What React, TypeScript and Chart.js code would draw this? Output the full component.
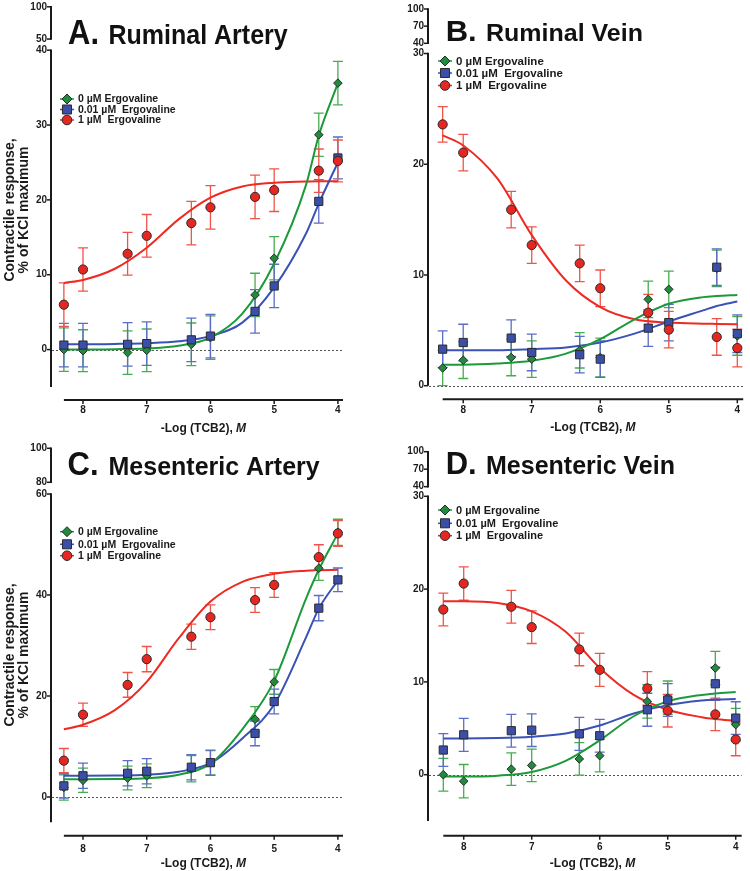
import React, { useEffect, useRef } from 'react';
import { Chart, registerables } from 'chart.js';

Chart.register(...registerables);

const FONT = '"Liberation Sans", Arial, Helvetica, sans-serif';
const INK = '#1a1a1a';

// ---------- shared categories / labels ----------
const doses = [8.3, 8, 7.3, 7, 6.3, 6, 5.3, 5, 4.3, 4];
const curveDoses = [8.3, 8, 7.5, 7, 6.5, 6, 5.5, 5, 4.5, 4.3, 4];
const xTickValues = [8, 7, 6, 5, 4];
const legendLabels = ['0 µM Ergovaline', '0.01 µM  Ergovaline', '1 µM  Ergovaline'];
const yAxisTitle = ['Contractile response,', '% of KCl maximum'];
const xAxisTitle = '-Log (TCB2), ';
const xAxisTitleUnit = 'M';

// ---------- Panel A: Ruminal Artery ----------
const mainTicksA = [0, 10, 20, 30, 40];
const topTicksA = [50, 100];
const greenA = [0.0, -0.15, -0.4, -0.1, 0.7, 1.6, 7.3, 12.2, 28.7, 35.6];
const greenErrA = [2.9, 2.8, 2.9, 2.85, 2.85, 2.9, 2.9, 2.9, 2.9, 2.9];
const blueA = [0.6, 0.6, 0.7, 0.8, 1.3, 1.8, 5.1, 8.5, 19.8, 25.6];
const blueErrA = [2.9, 2.9, 2.9, 2.9, 2.9, 2.9, 2.9, 2.9, 2.9, 2.8];
const redA = [6.0, 10.7, 12.8, 15.2, 16.9, 19.0, 20.4, 21.3, 23.9, 25.2];
const redErrA = [2.9, 2.9, 2.85, 2.85, 2.9, 2.9, 2.9, 2.85, 2.9, 2.8];
const greenCurveA = [0.0, 0.0, 0.05, 0.15, 0.5, 1.6, 4.8, 11.5, 22.0, 28.6, 35.6];
const blueCurveA = [0.7, 0.7, 0.75, 0.85, 1.1, 1.8, 3.6, 8.3, 15.5, 19.5, 25.0];
const redCurveA = [8.9, 9.3, 10.8, 13.6, 17.4, 20.3, 21.8, 22.3, 22.45, 22.5, 22.5];

// ---------- Panel B: Ruminal Vein ----------
const mainTicksB = [0, 10, 20, 30];
const topTicksB = [40, 70, 100];
const greenB = [1.6, 2.3, 2.55, 2.4, 3.2, 2.55, 7.8, 8.7, 10.6, 4.5];
const greenErrB = [1.6, 1.65, 1.65, 1.65, 1.6, 1.75, 1.65, 1.65, 1.65, 1.75];
const blueB = [3.3, 3.9, 4.3, 3.0, 2.8, 2.4, 5.2, 5.7, 10.7, 4.7];
const blueErrB = [1.65, 1.65, 1.65, 1.65, 1.65, 1.65, 1.65, 1.65, 1.65, 1.7];
const redB = [23.6, 21.05, 15.9, 12.7, 11.05, 8.8, 6.6, 5.06, 4.4, 3.4];
const redErrB = [1.6, 1.65, 1.65, 1.65, 1.65, 1.65, 1.65, 1.65, 1.65, 1.7];
const greenCurveB = [1.9, 1.9, 2.0, 2.25, 2.9, 4.2, 6.0, 7.4, 8.0, 8.1, 8.2];
const blueCurveB = [3.2, 3.2, 3.2, 3.3, 3.45, 3.9, 4.7, 5.8, 6.8, 7.2, 7.6];
const redCurveB = [22.6, 21.7, 18.7, 13.6, 9.5, 7.1, 6.0, 5.7, 5.6, 5.58, 5.55];

// ---------- Panel C: Mesenteric Artery ----------
const mainTicksC = [0, 20, 40, 60];
const topTicksC = [80, 100];
const greenC = [1.9, 3.3, 3.75, 4.2, 5.6, 6.8, 15.4, 22.8, 45.3, 52.4];
const greenErrC = [2.5, 2.4, 2.35, 2.35, 2.6, 2.4, 2.5, 2.45, 2.4, 2.6];
const blueC = [2.2, 4.2, 4.7, 5.1, 5.9, 6.8, 12.6, 18.9, 37.4, 43.0];
const blueErrC = [2.4, 2.5, 2.5, 2.5, 2.5, 2.5, 2.45, 2.45, 2.5, 2.35];
const redC = [7.2, 16.3, 22.2, 27.3, 31.75, 35.6, 39.0, 42.0, 47.5, 52.2];
const redErrC = [2.4, 2.3, 2.45, 2.5, 2.5, 2.45, 2.45, 2.45, 2.45, 2.55];
const greenCurveC = [3.5, 3.5, 3.55, 3.7, 4.4, 6.6, 13.4, 23.0, 39.3, 45.0, 52.2];
const blueCurveC = [4.2, 4.2, 4.25, 4.4, 5.0, 6.7, 11.6, 18.3, 31.6, 37.3, 42.9];
const redCurveC = [13.4, 14.3, 17.2, 22.8, 31.4, 38.7, 42.6, 44.2, 44.8, 44.9, 45.0];

// ---------- Panel D: Mesenteric Vein ----------
const mainTicksD = [0, 10, 20, 30];
const topTicksD = [40, 70, 100];
const greenD = [0.0, -0.7, 0.6, 1.0, 1.7, 2.05, 7.9, 8.3, 11.5, 5.4];
const greenErrD = [1.76, 1.8, 1.75, 1.75, 1.75, 1.75, 1.8, 1.8, 1.8, 1.75];
const blueD = [2.66, 4.3, 4.74, 4.8, 4.4, 4.2, 7.0, 8.05, 9.8, 6.1];
const blueErrD = [1.76, 1.78, 1.76, 1.76, 1.78, 1.76, 1.78, 1.76, 1.78, 1.76];
const redD = [17.8, 20.6, 18.1, 15.9, 13.5, 11.3, 9.3, 6.9, 6.5, 3.8];
const redErrD = [1.76, 1.8, 1.76, 1.76, 1.76, 1.78, 1.8, 1.76, 1.76, 1.76];
const greenCurveD = [-0.2, -0.2, -0.1, 0.3, 1.5, 3.7, 6.3, 7.9, 8.6, 8.75, 8.9];
const blueCurveD = [3.9, 3.9, 3.95, 4.1, 4.45, 5.3, 6.6, 7.5, 8.0, 8.1, 8.15];
const redCurveD = [18.7, 18.7, 18.5, 17.6, 15.4, 11.5, 8.6, 7.0, 6.2, 6.0, 5.8];

// ---------- styles ----------
const SERIES_STYLE = [
  { fill: '#1f8b3d', line: '#1c9a3a', err: '#46ad4f', style: 'rectRot', radius: 4.3, legR: 5 },
  { fill: '#3b4fa8', line: '#3a52b6', err: '#5b6dc6', style: 'rect', radius: 5.8, legR: 6.4 },
  { fill: '#e62620', line: '#ee2a22', err: '#f05448', style: 'circle', radius: 4.6, legR: 4.8 },
];

const panels = [
  {
    id: 'A', letter: 'A.', name: 'Ruminal Artery', left: 0, top: 0, width: 375, height: 435,
    letterX: 68, nameX: 108.5, titleBase: 44, titleSy: 1.12,
    legendX: 60, legendRows: [99, 109.5, 120], legendFont: 10.5,
    yTitle: { x1: 10, x2: 24, yc: 210 },
    mainTicks: mainTicksA, topTicks: topTicksA,
    yMin: -5, yMax: 40.73, topMin: 41.2, topMax: 100, wTop: 38, wMain: 343,
    xMin: 3.92, xMax: 8.502, padTop: 6, padRight: 32, yWidth: 51, xHeight: 48, tickLen: 17, xAxisGap: 13, xTitleY: 429,
    means: [greenA, blueA, redA], errs: [greenErrA, blueErrA, redErrA], curves: [greenCurveA, blueCurveA, redCurveA],
  },
  {
    id: 'B', letter: 'B.', name: 'Ruminal Vein', left: 375, top: 0, width: 375, height: 435,
    letterX: 70.7, nameX: 111, titleBase: 41, titleSy: 0.95,
    legendX: 63, legendRows: [61, 73, 85.5], legendFont: 11.5,
    yTitle: null,
    mainTicks: mainTicksB, topTicks: topTicksB,
    yMin: 0, yMax: 30.5, topMin: 31.8, topMax: 100, wTop: 39, wMain: 337.7,
    xMin: 3.914, xMax: 8.514, padTop: 9, padRight: 2.3, yWidth: 53, xHeight: 49.3, tickLen: 18.3, xAxisGap: 13.6, xTitleY: 428,
    means: [greenB, blueB, redB], errs: [greenErrB, blueErrB, redErrB], curves: [greenCurveB, blueCurveB, redCurveB],
  },
  {
    id: 'C', letter: 'C.', name: 'Mesenteric Artery', left: 0, top: 435, width: 375, height: 436,
    letterX: 67.5, nameX: 108.5, titleBase: 40, titleSy: 1.06,
    legendX: 60, legendRows: [96.7, 109.3, 120.7], legendFont: 10.5,
    yTitle: { x1: 10, x2: 24, yc: 220 },
    mainTicks: mainTicksC, topTicks: topTicksC,
    yMin: -5, yMax: 61.19, topMin: 76.65, topMax: 100, wTop: 39.7, wMain: 334.25,
    xMin: 3.92, xMax: 8.502, padTop: 13.3, padRight: 32, yWidth: 51, xHeight: 48.75, tickLen: 20.75, xAxisGap: 13.45, xTitleY: 428.3,
    means: [greenC, blueC, redC], errs: [greenErrC, blueErrC, redErrC], curves: [greenCurveC, blueCurveC, redCurveC],
  },
  {
    id: 'D', letter: 'D.', name: 'Mesenteric Vein', left: 375, top: 435, width: 375, height: 436,
    letterX: 70.7, nameX: 111, titleBase: 39, titleSy: 1.0,
    legendX: 63, legendRows: [75, 88.3, 100.7], legendFont: 11,
    yTitle: null,
    mainTicks: mainTicksD, topTicks: topTicksD,
    yMin: -5, yMax: 30.52, topMin: 31.7, topMax: 100, wTop: 39.8, wMain: 329.6,
    xMin: 3.912, xMax: 8.525, padTop: 16.7, padRight: 8.3, yWidth: 53, xHeight: 49.9, tickLen: 20.2, xAxisGap: 14.6, xTitleY: 428.3,
    means: [greenD, blueD, redD], errs: [greenErrD, blueErrD, redErrD], curves: [greenCurveD, blueCurveD, redCurveD],
  },
];

function drawMarker(ctx: CanvasRenderingContext2D, style: string, x: number, y: number, r: number, fill: string) {
  ctx.beginPath();
  if (style === 'circle') {
    ctx.arc(x, y, r, 0, Math.PI * 2);
  } else if (style === 'rect') {
    const h = r * Math.SQRT1_2;
    ctx.rect(x - h, y - h, 2 * h, 2 * h);
  } else {
    ctx.moveTo(x - r, y);
    ctx.lineTo(x, y - r);
    ctx.lineTo(x + r, y);
    ctx.lineTo(x, y + r);
    ctx.closePath();
  }
  ctx.fillStyle = fill;
  ctx.fill();
  ctx.strokeStyle = '#2b2b2b';
  ctx.lineWidth = 1;
  ctx.stroke();
}

function makeDecor(p: any) {
  return {
    id: 'decor' + p.id,
    beforeDatasetsDraw(chart: any) {
      const ctx = chart.ctx;
      const xs = chart.scales.x;
      const ys = chart.scales.y;
      const area = chart.chartArea;
      ctx.save();
      const y0 = Math.round(ys.getPixelForValue(0)) + 0.5;
      ctx.strokeStyle = '#555';
      ctx.lineWidth = 1;
      ctx.setLineDash([2, 2]);
      ctx.beginPath();
      ctx.moveTo(area.left + 1, y0);
      ctx.lineTo(area.right, y0);
      ctx.stroke();
      ctx.setLineDash([]);
      for (let s = 0; s < 3; s++) {
        const st = SERIES_STYLE[s];
        ctx.strokeStyle = st.err;
        ctx.lineWidth = 1.3;
        doses.forEach((d, i) => {
          const x = xs.getPixelForValue(d);
          const m = p.means[s][i];
          const e = p.errs[s][i];
          const yh = ys.getPixelForValue(m + e);
          const yl = ys.getPixelForValue(m - e);
          ctx.beginPath();
          ctx.moveTo(x, yh);
          ctx.lineTo(x, yl);
          ctx.moveTo(x - 5, yh);
          ctx.lineTo(x + 5, yh);
          ctx.moveTo(x - 5, yl);
          ctx.lineTo(x + 5, yl);
          ctx.stroke();
        });
      }
      ctx.restore();
    },
    afterDraw(chart: any) {
      const ctx = chart.ctx;
      const xs = chart.scales.x;
      const ys = chart.scales.y;
      const yt = chart.scales.yTop;
      const area = chart.chartArea;
      ctx.save();
      ctx.strokeStyle = INK;
      ctx.lineCap = 'butt';
      const ax = area.left;
      // main y axis
      const mt = p.mainTicks;
      const yTopMain = ys.getPixelForValue(mt[mt.length - 1]);
      const yBotMain = ys.getPixelForValue(p.yMin);
      ctx.lineWidth = 2;
      ctx.beginPath();
      ctx.moveTo(ax, yTopMain - 0.75);
      ctx.lineTo(ax, yBotMain);
      ctx.stroke();
      ctx.lineWidth = 1.5;
      mt.forEach((t: number) => {
        const y = ys.getPixelForValue(t);
        ctx.beginPath();
        ctx.moveTo(ax - 4, y);
        ctx.lineTo(ax, y);
        ctx.stroke();
      });
      // top segment
      const tt = p.topTicks;
      const ya = yt.getPixelForValue(tt[tt.length - 1]);
      const yb = yt.getPixelForValue(tt[0]);
      ctx.lineWidth = 2;
      ctx.beginPath();
      ctx.moveTo(ax, ya - 0.75);
      ctx.lineTo(ax, yb + 0.75);
      ctx.stroke();
      ctx.lineWidth = 1.5;
      tt.forEach((t: number) => {
        const y = yt.getPixelForValue(t);
        ctx.beginPath();
        ctx.moveTo(ax - 4, y);
        ctx.lineTo(ax, y);
        ctx.stroke();
      });
      // x axis
      const yx = area.bottom + p.xAxisGap;
      const xStart = xs.getPixelForValue(8.3);
      ctx.lineWidth = 2;
      ctx.beginPath();
      ctx.moveTo(xStart, yx);
      ctx.lineTo(area.right, yx);
      ctx.stroke();
      ctx.lineWidth = 1.5;
      xTickValues.forEach((t) => {
        const x = xs.getPixelForValue(t);
        ctx.beginPath();
        ctx.moveTo(x, yx);
        ctx.lineTo(x, yx + 4);
        ctx.stroke();
      });
      // x axis title
      ctx.fillStyle = INK;
      ctx.textBaseline = 'middle';
      ctx.textAlign = 'left';
      ctx.font = `bold 12px ${FONT}`;
      const w1 = ctx.measureText(xAxisTitle).width;
      ctx.font = `italic bold 12px ${FONT}`;
      const w2 = ctx.measureText(xAxisTitleUnit).width;
      const cx = (xStart + area.right) / 2;
      const sx = cx - (w1 + w2) / 2;
      ctx.font = `bold 12px ${FONT}`;
      ctx.fillText(xAxisTitle, sx, p.xTitleY);
      ctx.font = `italic bold 12px ${FONT}`;
      ctx.fillText(xAxisTitleUnit, sx + w1, p.xTitleY);
      // y axis title
      if (p.yTitle) {
        ctx.font = `bold 14px ${FONT}`;
        ctx.textAlign = 'center';
        ctx.textBaseline = 'middle';
        [p.yTitle.x1, p.yTitle.x2].forEach((xx: number, k: number) => {
          ctx.save();
          ctx.translate(xx, p.yTitle.yc);
          ctx.rotate(-Math.PI / 2);
          ctx.fillText(yAxisTitle[k], 0, 0);
          ctx.restore();
        });
      }
      // panel title
      ctx.save();
      ctx.translate(0, p.titleBase);
      ctx.scale(1, p.titleSy);
      ctx.textAlign = 'left';
      ctx.textBaseline = 'alphabetic';
      ctx.fillStyle = '#111';
      ctx.font = `bold 31px ${FONT}`;
      ctx.fillText(p.letter, p.letterX, 0);
      ctx.font = `bold 25px ${FONT}`;
      ctx.fillText(p.name, p.nameX, 0);
      ctx.restore();
      // legend
      for (let s = 0; s < 3; s++) {
        const st = SERIES_STYLE[s];
        const y = p.legendRows[s];
        const lx = p.legendX;
        ctx.strokeStyle = st.line;
        ctx.lineWidth = 1.5;
        ctx.beginPath();
        ctx.moveTo(lx, y);
        ctx.lineTo(lx + 14, y);
        ctx.stroke();
        drawMarker(ctx, st.style, lx + 7, y, st.legR, st.fill);
        ctx.fillStyle = INK;
        ctx.font = `bold ${p.legendFont}px ${FONT}`;
        ctx.textAlign = 'left';
        ctx.textBaseline = 'middle';
        ctx.fillText(legendLabels[s], lx + 18, y + 0.5);
      }
      ctx.restore();
    },
  };
}

function buildConfig(p: any): any {
  const datasets: any[] = [];
  for (let s = 2; s >= 0; s--) {
    const st = SERIES_STYLE[s];
    datasets.push({
      type: 'scatter',
      label: legendLabels[s],
      data: doses.map((x, i) => ({ x, y: p.means[s][i] })),
      pointStyle: st.style,
      pointRadius: st.radius,
      pointHoverRadius: st.radius,
      pointBackgroundColor: st.fill,
      pointBorderColor: '#2b2b2b',
      pointBorderWidth: 1,
      showLine: false,
      order: 2 - s,
      clip: false,
    });
  }
  for (let s = 0; s < 3; s++) {
    const st = SERIES_STYLE[s];
    datasets.push({
      type: 'line',
      label: legendLabels[s] + ' fit',
      data: curveDoses.map((x, i) => ({ x, y: p.curves[s][i] })),
      borderColor: st.line,
      borderWidth: 2,
      pointRadius: 0,
      fill: false,
      cubicInterpolationMode: 'monotone',
      order: 10 + s,
    });
  }
  const tickFont = { family: FONT, size: 10, weight: 'bold', lineHeight: 1.2 };
  return {
    type: 'scatter',
    data: { datasets },
    plugins: [makeDecor(p)],
    options: {
      animation: false,
      responsive: false,
      devicePixelRatio: 1,
      events: [],
      layout: { padding: { left: 0, top: p.padTop, right: p.padRight, bottom: 0 } },
      plugins: { legend: { display: false }, tooltip: { enabled: false }, title: { display: false } },
      scales: {
        x: {
          type: 'linear',
          position: 'bottom',
          reverse: true,
          min: p.xMin,
          max: p.xMax,
          border: { display: false },
          grid: { display: true, drawOnChartArea: false, drawTicks: true, tickLength: p.tickLen, color: 'rgba(0,0,0,0)' },
          ticks: { font: tickFont, color: INK, padding: 0, maxRotation: 0, autoSkip: false, callback: (v: any) => String(v) },
          afterBuildTicks: (sc: any) => { sc.ticks = xTickValues.map((v) => ({ value: v })); },
          afterFit: (sc: any) => { sc.height = p.xHeight; },
        },
        y: {
          type: 'linear',
          position: 'left',
          stack: 'v',
          stackWeight: p.wMain,
          weight: 0,
          min: p.yMin,
          max: p.yMax,
          border: { display: false },
          grid: { display: true, drawOnChartArea: false, drawTicks: true, tickLength: 4, color: 'rgba(0,0,0,0)' },
          ticks: { font: tickFont, color: INK, padding: 0, autoSkip: false, callback: (v: any) => String(v) },
          afterBuildTicks: (sc: any) => { sc.ticks = p.mainTicks.map((v: number) => ({ value: v })); },
          afterFit: (sc: any) => { sc.width = p.yWidth; },
        },
        yTop: {
          type: 'linear',
          position: 'left',
          display: true,
          stack: 'v',
          stackWeight: p.wTop,
          weight: 1,
          min: p.topMin,
          max: p.topMax,
          border: { display: false },
          grid: { display: true, drawOnChartArea: false, drawTicks: true, tickLength: 4, color: 'rgba(0,0,0,0)' },
          ticks: { font: tickFont, color: INK, padding: 0, autoSkip: false, callback: (v: any) => String(v) },
          afterBuildTicks: (sc: any) => { sc.ticks = p.topTicks.map((v: number) => ({ value: v })); },
          afterFit: (sc: any) => { sc.width = p.yWidth; },
        },
      },
    },
  };
}

function Panel({ p }: { p: any }) {
  const ref = useRef<HTMLCanvasElement | null>(null);
  useEffect(() => {
    if (!ref.current) return;
    const chart = new Chart(ref.current, buildConfig(p));
    return () => chart.destroy();
  }, [p]);
  return (
    <canvas
      ref={ref}
      width={p.width}
      height={p.height}
      style={{ position: 'absolute', left: p.left, top: p.top, width: p.width, height: p.height, display: 'block' }}
    />
  );
}

export default function App() {
  return (
    <div style={{ position: 'absolute', left: 0, top: 0, width: 750, height: 871, background: '#fff', overflow: 'hidden' }}>
      {panels.map((p) => (
        <Panel key={p.id} p={p} />
      ))}
    </div>
  );
}
